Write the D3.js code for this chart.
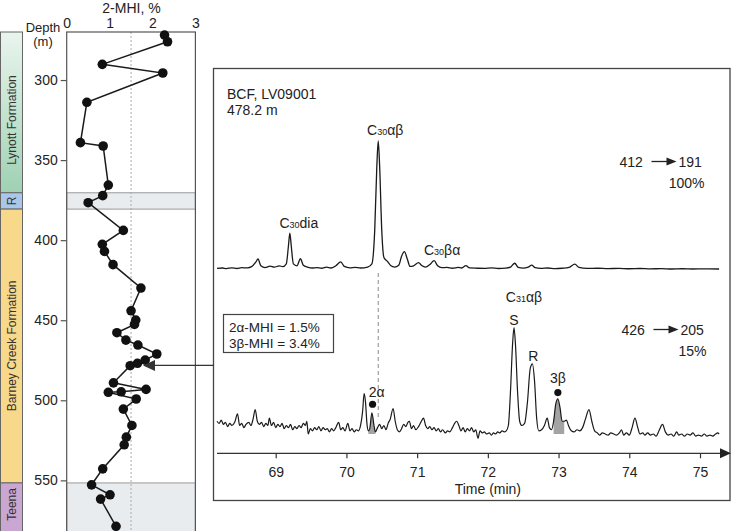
<!DOCTYPE html>
<html>
<head>
<meta charset="utf-8">
<script src="https://cdn.jsdelivr.net/npm/d3@7"></script>
<style>
  body { margin: 0; background: #fff; }
  svg { display: block; font-family: "Liberation Sans", Arial, sans-serif; }
</style>
</head>
<body>
<svg id="chart" width="735" height="531"></svg>
<script>
// ---- left panel data: 2-MHI vs depth ----
const mhiDepth = [271.9, 276.1, 290.2, 295.6, 313.9, 339.1, 341.2, 365.6, 372.2, 376.6,
  393.9, 402.6, 407.0, 415.3, 429.9, 444.1, 449.9, 452.6, 457.8, 462.4,
  465.5, 471.1, 474.9, 476.9, 478.4, 489.1, 493.2, 494.7, 495.0, 499.2,
  505.5, 515.7, 523.0, 527.8, 542.8, 552.8, 559.0, 561.7, 578.7];
const mhiValue = [2.28, 2.35, 0.83, 2.24, 0.47, 0.32, 0.85, 0.97, 0.84, 0.50,
  1.32, 0.83, 0.88, 1.08, 1.73, 1.50, 1.61, 1.58, 1.17, 1.38,
  1.66, 2.10, 1.83, 1.65, 1.48, 1.09, 1.85, 1.27, 0.97, 1.62,
  1.32, 1.52, 1.39, 1.34, 0.84, 0.58, 1.01, 0.79, 1.15];
const mhiTicks = [0, 1, 2, 3];
const depthTicks = [300, 350, 400, 450, 500, 550];
const mhiMean = 1.5;

const formationNames = ['Lynott Formation', 'R', 'Barney Creek Formation', 'Teena'];
const formationTop = [270, 370.4, 380.6, 551.6];
const formationBottom = [370.4, 380.6, 551.6, 585];
const grayBandTop = [370.4, 551.6];
const grayBandBottom = [380.6, 585];

// ---- right panel data: chromatograms ----
// 412 -> 191 trace (relative intensity, C30ab = 100)
const topTime = [68.17, 68.25, 68.30, 68.38, 68.45, 68.52, 68.60, 68.66, 68.72, 68.75,
  68.79, 68.85, 68.92, 68.98, 69.05, 69.10, 69.15, 69.18, 69.20, 69.22,
  69.25, 69.30, 69.35, 69.39, 69.45, 69.52, 69.58, 69.65, 69.72, 69.78,
  69.85, 69.92, 69.97, 70.05, 70.12, 70.20, 70.30, 70.36, 70.40, 70.43,
  70.45, 70.47, 70.50, 70.53, 70.58, 70.63, 70.68, 70.74, 70.78, 70.82,
  70.86, 70.90, 70.95, 71.02, 71.06, 71.12, 71.18, 71.24, 71.29, 71.35,
  71.42, 71.50, 71.58, 71.63, 71.69, 71.74, 71.85, 71.95, 72.05, 72.15,
  72.25, 72.32, 72.38, 72.43, 72.50, 72.57, 72.62, 72.67, 72.75, 72.85,
  72.95, 73.05, 73.15, 73.23, 73.29, 73.40, 73.55, 73.70, 73.85, 74.00,
  74.15, 74.30, 74.45, 74.60, 74.75, 74.90, 75.05, 75.27];
const topIntensity = [0.5, 0.8, 0.3, 0.9, 0.4, 1.0, 0.9, 1.8, 5.5, 7.8,
  2.5, 1.0, 2.2, 1.4, 2.5, 1.8, 4, 18, 28, 18,
  4, 2.5, 8, 3, 1.5, 0.8, 1.0, 0.6, 1.5, 0.8,
  2.5, 5.5, 2.0, 0.9, 1.2, 0.8, 1.5, 4, 30, 80,
  100, 80, 30, 9, 6, 2.5, 1.5, 3, 10, 13.5,
  8, 2, 2.5, 5, 3, 1.5, 3.5, 6.5, 2.5, 1,
  1.3, 0.6, 1.2, 0.8, 2.6, 0.8, 0.6, 0.5, 0.9, 0.4,
  0.7, 1.5, 4.5, 1.2, 0.7, 1.4, 3.0, 1.0, 0.5, 0.8,
  0.3, 0.6, 1.3, 3.8, 1.2, 0.5, 0.6, 0.3, 0.5, 0.2,
  0.4, 0.1, 0.3, 0.0, 0.2, 0.0, 0.1, 0.0];

// 426 -> 205 trace (relative intensity, C31ab S = 100)
const lowTime = [68.17, 68.20, 68.23, 68.26, 68.29, 68.32, 68.35, 68.38, 68.42, 68.46,
  68.49, 68.52, 68.55, 68.58, 68.62, 68.65, 68.68, 68.71, 68.74, 68.77,
  68.80, 68.83, 68.86, 68.89, 68.91, 68.94, 68.97, 69.00, 69.03, 69.06,
  69.09, 69.12, 69.15, 69.18, 69.21, 69.24, 69.27, 69.30, 69.33, 69.36,
  69.39, 69.42, 69.44, 69.46, 69.49, 69.52, 69.55, 69.58, 69.61, 69.64,
  69.67, 69.70, 69.73, 69.76, 69.79, 69.82, 69.85, 69.89, 69.92, 69.95,
  69.98, 70.02, 70.05, 70.08, 70.11, 70.14, 70.17, 70.20, 70.23, 70.25,
  70.27, 70.29, 70.31, 70.33, 70.36, 70.39, 70.41, 70.44, 70.47, 70.50,
  70.53, 70.56, 70.59, 70.62, 70.66, 70.69, 70.72, 70.75, 70.78, 70.81,
  70.84, 70.87, 70.89, 70.92, 70.95, 70.98, 71.02, 71.06, 71.09, 71.12,
  71.15, 71.18, 71.21, 71.24, 71.27, 71.30, 71.33, 71.36, 71.40, 71.43,
  71.46, 71.50, 71.53, 71.56, 71.59, 71.62, 71.65, 71.68, 71.71, 71.74,
  71.77, 71.80, 71.83, 71.86, 71.89, 71.92, 71.95, 71.98, 72.02, 72.05,
  72.08, 72.11, 72.14, 72.17, 72.20, 72.23, 72.26, 72.29, 72.32, 72.35,
  72.37, 72.39, 72.42, 72.45, 72.48, 72.52, 72.56, 72.60, 72.63, 72.66,
  72.69, 72.72, 72.76, 72.80, 72.84, 72.87, 72.90, 72.93, 72.96, 72.99,
  73.02, 73.05, 73.08, 73.11, 73.14, 73.18, 73.22, 73.26, 73.30, 73.34,
  73.38, 73.43, 73.47, 73.51, 73.55, 73.58, 73.62, 73.66, 73.70, 73.74,
  73.78, 73.82, 73.86, 73.89, 73.92, 73.96, 74.00, 74.04, 74.08, 74.12,
  74.15, 74.19, 74.22, 74.26, 74.30, 74.34, 74.38, 74.42, 74.47, 74.51,
  74.55, 74.59, 74.63, 74.67, 74.70, 74.74, 74.78, 74.82, 74.86, 74.90,
  74.94, 74.98, 75.02, 75.06, 75.10, 75.14, 75.18, 75.22, 75.25, 75.27];
const lowIntensity = [12, 10, 13, 9, 11, 7, 10, 8, 11, 19,
  8, 10, 6, 9, 11, 8, 14, 23, 12, 9,
  11, 7, 10, 8, 15, 8, 11, 6, 9, 7,
  10, 5, 8, 6, 9, 4, 7, 5, 8, 6,
  10, 8, 12, 0, 5, 3, 6, 4, 7, 3,
  6, 4, 5, 2, 5, 3, 6, 11, 4, 6,
  3, 10, 3, 5, 2, 4, 3, 8, 22, 38,
  30, 10, 3, 5, 20, 8, 2, 6, 9, 5,
  8, 4, 10, 14, 24, 12, 4, 2, 5, 9,
  7, 11, 12, 5, 8, 4, 7, 12, 15, 8,
  5, 7, 4, 6, 3, 5, 2, 4, 1, 3,
  2, 6, 10, 12, 8, 3, 6, 2, 5, 3,
  6, 2, 4, -4, 3, 1, 2, 0, 1, -1,
  1, 0, 2, 1, 3, 2, 3, 8, 40, 85,
  100, 85, 40, 12, 8, 10, 30, 62, 66, 50,
  15, 3, 4, 8, 15, 6, 4, 12, 28, 33,
  25, 12, 12, 13, 8, 3, 2, 4, 3, 6,
  14, 23, 12, 3, 1, -1, 1, 0, -1, 1,
  0, -1, 1, 4, -1, 1, -1, 6, 15, 6,
  0, 1, -1, 1, -1, 0, -2, 3, 9, 2,
  -1, 0, -2, 2, -1, 0, -2, 0, -1, 1,
  -2, -1, -2, 0, -2, -1, -2, 0, 1, 0];
const timeTicks = [69, 70, 71, 72, 73, 74, 75];
const shade2a = [70.31, 70.41];
const shade3b = [72.93, 73.08];
const c30abTime = 70.45;

const svg = d3.select('#chart');
const ink = '#1a1a1a';

// ================= left panel =================
const depthY = d3.scaleLinear().domain([270, 581]).range([32, 530]);
const mhiX = d3.scaleLinear().domain([0, 3]).range([66.7, 195.4]);

// formation column
const defs = svg.append('defs');
const grad = defs.append('linearGradient').attr('id', 'lyn')
  .attr('x1', 0).attr('y1', 0).attr('x2', 0).attr('y2', 1);
grad.append('stop').attr('offset', '0%').attr('stop-color', '#e9f5ee');
grad.append('stop').attr('offset', '100%').attr('stop-color', '#9fd1b3');
const formationFill = ['url(#lyn)', '#a9c7e8', '#f8d98c', '#c9a7d2'];

svg.selectAll('rect.fm')
  .data(formationNames)
  .enter()
  .append('rect')
  .attr('class', 'fm')
  .attr('x', 0.5)
  .attr('width', 22)
  .attr('y', (d, i) => depthY(formationTop[i]))
  .attr('height', (d, i) => depthY(formationBottom[i]) - depthY(formationTop[i]))
  .attr('fill', (d, i) => formationFill[i])
  .attr('stroke', '#666')
  .attr('stroke-width', 1);

const labelCenter = [325, 375.5, 466, 565];
svg.selectAll('text.fm')
  .data(formationNames)
  .enter()
  .append('text')
  .attr('class', 'fm')
  .attr('transform', (d, i) => 'translate(12,' + depthY(labelCenter[i]) + ') rotate(-90)')
  .attr('text-anchor', 'middle')
  .attr('dy', '0.35em')
  .attr('font-size', 12)
  .attr('fill', '#333')
  .text(d => d);

// gray bands inside the plot
svg.selectAll('rect.band')
  .data(grayBandTop)
  .enter()
  .append('rect')
  .attr('class', 'band')
  .attr('x', mhiX(0))
  .attr('width', mhiX(3) - mhiX(0))
  .attr('y', d => depthY(d))
  .attr('height', (d, i) => depthY(grayBandBottom[i]) - depthY(d))
  .attr('fill', '#e8ecef')
  .attr('stroke', '#9a9a9a')
  .attr('stroke-width', 1);

// dashed mean line
svg.append('line')
  .attr('x1', mhiX(mhiMean)).attr('x2', mhiX(mhiMean))
  .attr('y1', depthY(270)).attr('y2', 531)
  .attr('stroke', '#aaa')
  .attr('stroke-width', 1)
  .attr('stroke-dasharray', '2,2');

// frame
svg.append('rect')
  .attr('x', mhiX(0)).attr('y', depthY(270))
  .attr('width', mhiX(3) - mhiX(0))
  .attr('height', 520)
  .attr('fill', 'none')
  .attr('stroke', '#555')
  .attr('stroke-width', 1.2);

// axes
const topAxis = svg.append('g')
  .attr('transform', 'translate(0,' + depthY(270) + ')')
  .call(d3.axisTop(mhiX).tickValues(mhiTicks).tickSize(0).tickPadding(4).tickFormat(d3.format('d')));
topAxis.attr('font-family', null).attr('font-size', null);
topAxis.select('.domain').remove();
topAxis.selectAll('text').attr('font-size', 14).attr('fill', '#222');

const depthAxis = svg.append('g')
  .attr('transform', 'translate(' + mhiX(0) + ',0)')
  .call(d3.axisLeft(depthY).tickValues(depthTicks).tickSize(6).tickPadding(3));
depthAxis.attr('font-family', null).attr('font-size', null);
depthAxis.select('.domain').remove();
depthAxis.selectAll('line').attr('stroke', '#555').attr('stroke-width', 1.2);
depthAxis.selectAll('text').attr('font-size', 14).attr('fill', '#222');

svg.append('text').attr('x', 131.5).attr('y', 12.5).attr('text-anchor', 'middle')
  .attr('font-size', 14).attr('fill', '#222').text('2-MHI, %');
svg.append('text').attr('x', 43).attr('y', 32).attr('text-anchor', 'middle')
  .attr('font-size', 13).attr('fill', '#222').text('Depth');
svg.append('text').attr('x', 43).attr('y', 46).attr('text-anchor', 'middle')
  .attr('font-size', 13).attr('fill', '#222').text('(m)');

// profile line + dots
const mhiPts = mhiDepth.map((d, i) => [mhiValue[i], d]);
svg.append('path')
  .datum(mhiPts)
  .attr('d', d3.line().x(d => mhiX(d[0])).y(d => depthY(d[1])))
  .attr('fill', 'none')
  .attr('stroke', ink)
  .attr('stroke-width', 1.5);
svg.selectAll('circle.mhi')
  .data(mhiPts)
  .enter()
  .append('circle')
  .attr('class', 'mhi')
  .attr('cx', d => mhiX(d[0]))
  .attr('cy', d => depthY(d[1]))
  .attr('r', 4.8)
  .attr('fill', '#111');

// ================= right panel =================
const timeX = d3.scaleLinear().domain([69, 75]).range([275.7, 700]);
const topY = d3.scaleLinear().domain([0, 100]).range([269, 141]);
const lowY = d3.scaleLinear().domain([0, 100]).range([434, 327.7]);

// frame
svg.append('rect')
  .attr('x', 213.5).attr('y', 68.5)
  .attr('width', 516.5).attr('height', 432)
  .attr('fill', '#fff')
  .attr('stroke', '#444')
  .attr('stroke-width', 1.3);

// pointer arrow from the panel to the sampled depth
const sampleY = depthY(478.2);
svg.append('line')
  .attr('x1', 213.5).attr('x2', 152)
  .attr('y1', sampleY).attr('y2', sampleY)
  .attr('stroke', '#333').attr('stroke-width', 1.3);
svg.append('path')
  .attr('d', 'M143,' + sampleY + ' L155,' + (sampleY - 5.5) + ' L155,' + (sampleY + 5.5) + ' Z')
  .attr('fill', '#333');

// dashed guide at C30ab retention time
svg.append('line')
  .attr('x1', timeX(c30abTime)).attr('x2', timeX(c30abTime))
  .attr('y1', 273).attr('y2', 420)
  .attr('stroke', '#888')
  .attr('stroke-width', 1)
  .attr('stroke-dasharray', '4,3');

// shaded peaks
const lowPts = lowTime.map((t, i) => [t, lowIntensity[i]]);
const shadeArea = d3.area()
  .x(d => timeX(d[0]))
  .y0(lowY(0))
  .y1(d => lowY(d[1]))
  .curve(d3.curveMonotoneX);
[shade2a, shade3b].forEach(function(r) {
  const sub = lowPts.filter(p => p[0] >= r[0] && p[0] <= r[1]);
  svg.append('path').datum(sub).attr('d', shadeArea).attr('fill', '#a3a3a3');
});

// traces
const topPts = topTime.map((t, i) => [t, topIntensity[i]]);
svg.append('path')
  .datum(topPts)
  .attr('d', d3.line().x(d => timeX(d[0])).y(d => topY(d[1])).curve(d3.curveMonotoneX))
  .attr('fill', 'none')
  .attr('stroke', ink)
  .attr('stroke-width', 1.3);
svg.append('path')
  .datum(lowPts)
  .attr('d', d3.line().x(d => timeX(d[0])).y(d => lowY(d[1])).curve(d3.curveMonotoneX))
  .attr('fill', 'none')
  .attr('stroke', ink)
  .attr('stroke-width', 1.2);

// peak dots
svg.append('circle').attr('cx', timeX(70.37)).attr('cy', lowY(28)).attr('r', 3.6).attr('fill', '#111');
svg.append('circle').attr('cx', timeX(72.99)).attr('cy', lowY(39)).attr('r', 3.6).attr('fill', '#111');

// time axis
const axisY = 453.3;
const timeAxis = svg.append('g')
  .attr('transform', 'translate(0,' + axisY + ')')
  .call(d3.axisBottom(timeX).tickValues(timeTicks).tickSize(5).tickPadding(9).tickFormat(d3.format('d')));
timeAxis.attr('font-family', null).attr('font-size', null);
timeAxis.select('.domain').remove();
timeAxis.selectAll('line').attr('stroke', '#333').attr('stroke-width', 1.2);
timeAxis.selectAll('text').attr('font-size', 14).attr('fill', '#222');
svg.append('line')
  .attr('x1', timeX(68.17)).attr('x2', 722)
  .attr('y1', axisY).attr('y2', axisY)
  .attr('stroke', '#333').attr('stroke-width', 1.3);
svg.append('path')
  .attr('d', 'M731,' + axisY + ' L720,' + (axisY - 5) + ' L720,' + (axisY + 5) + ' Z')
  .attr('fill', '#222');
svg.append('text').attr('x', timeX(72)).attr('y', 494).attr('text-anchor', 'middle')
  .attr('font-size', 14).attr('fill', '#222').text('Time (min)');

// texts
function plain(x, y, s, anchor, size) {
  return svg.append('text').attr('x', x).attr('y', y)
    .attr('text-anchor', anchor || 'start')
    .attr('font-size', size || 14).attr('fill', '#222').text(s);
}
function cLabel(x, y, num, suffix) {
  const t = svg.append('text').attr('x', x).attr('y', y)
    .attr('text-anchor', 'middle').attr('font-size', 14).attr('fill', '#222');
  t.append('tspan').text('C');
  t.append('tspan').attr('font-size', 9).text(num);
  t.append('tspan').text(suffix);
}

plain(227, 99, 'BCF, LV09001');
plain(227, 115, '478.2 m');

cLabel(timeX(69.20) + 9, 228, '30', 'dia');
cLabel(timeX(70.45) + 7, 135, '30', 'αβ');
cLabel(timeX(71.24) + 8, 255, '30', 'βα');
cLabel(timeX(72.37) + 10, 301.5, '31', 'αβ');
plain(timeX(72.37), 324.5, 'S', 'middle');
plain(timeX(72.63) + 1, 361, 'R', 'middle');
plain(timeX(72.99), 383, '3β', 'middle');
plain(timeX(70.37) + 4, 397, '2α', 'middle');

// transitions
function transition(x, y, from, to, pct) {
  plain(x, y, from);
  svg.append('line').attr('x1', x + 32).attr('x2', x + 50)
    .attr('y1', y - 5).attr('y2', y - 5)
    .attr('stroke', '#222').attr('stroke-width', 1.3);
  svg.append('path')
    .attr('d', 'M' + (x + 57) + ',' + (y - 5) + ' L' + (x + 47) + ',' + (y - 9) + ' L' + (x + 47) + ',' + (y - 1) + ' Z')
    .attr('fill', '#222');
  plain(x + 59, y, to);
  plain(x + 85, y + 21, pct, 'end');
}
transition(619.5, 166.5, '412', '191', '100%');
transition(621.5, 334.5, '426', '205', '15%');

// MHI box
svg.append('rect')
  .attr('x', 223.5).attr('y', 314.5)
  .attr('width', 110).attr('height', 38)
  .attr('fill', '#fff')
  .attr('stroke', '#444')
  .attr('stroke-width', 1.2);
plain(229, 332, '2α-MHI = 1.5%', 'start', 13.5);
plain(229, 347.5, '3β-MHI = 3.4%', 'start', 13.5);
</script>
</body>
</html>
